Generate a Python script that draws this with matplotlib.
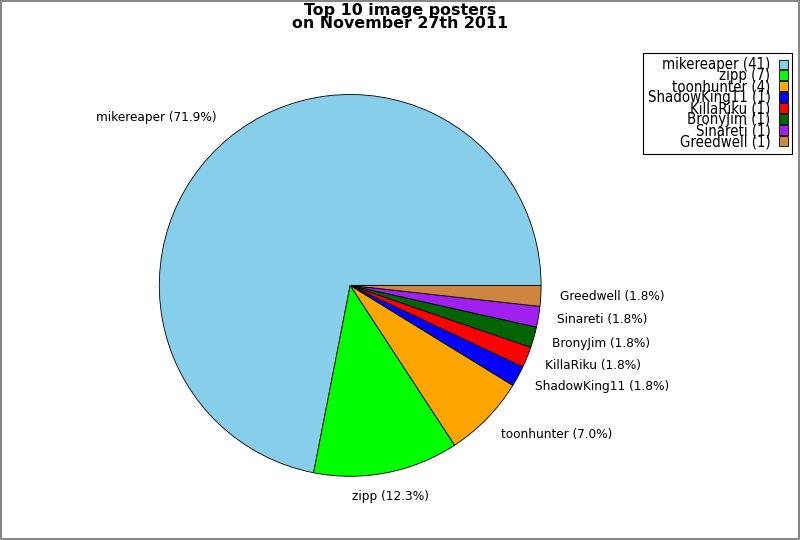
import matplotlib
matplotlib.use("Agg")
import numpy as np
import matplotlib.pyplot as plt
from matplotlib.transforms import offset_copy

names = ["mikereaper", "zipp", "toonhunter", "ShadowKing11", "KillaRiku",
         "BronyJim", "Sinareti", "Greedwell"]
counts = [41, 7, 4, 1, 1, 1, 1, 1]
colors = ["#87CEEB", "#00FF00", "#FFA500", "#0000FF", "#FF0000",
          "#006400", "#A020F0", "#CD853F"]

total = sum(counts)
pie_labels = ["%s (%.1f%%)" % (n, 100.0 * c / total) for n, c in zip(names, counts)]
legend_labels = ["%s (%d)" % (n, c) for n, c in zip(names, counts)]

fig = plt.figure(figsize=(8, 5.4), dpi=100)
fig.patch.set_edgecolor("#888888")
fig.patch.set_linewidth(1.5)

ax = fig.add_axes([0.199, 0.118, 0.4775, 0.707])
wedges, texts = ax.pie(counts, labels=pie_labels, colors=colors, startangle=0,
                       counterclock=True, labeldistance=1.1,
                       wedgeprops=dict(edgecolor="black", linewidth=0.6),
                       textprops=dict(fontsize=8.7))
ax.set_xlim(-1, 1)
ax.set_ylim(-1, 1)
ax.set_aspect("equal")

# nudge labels outward so their boxes sit outside the 1.1r point
for w, t in zip(wedges, texts):
    mid = np.deg2rad((w.theta1 + w.theta2) / 2)
    c, s = np.cos(mid), np.sin(mid)
    if abs(c) < 0.3:
        t.set_ha("center")
    t.set_va("center")
    t.set_transform(offset_copy(ax.transData, fig=fig, x=0, y=s * 4.2 + 0.8, units="points"))

fig.suptitle("Top 10 image posters\non November 27th 2011", fontsize=11.4,
             fontweight="bold", y=0.995, linespacing=0.88)

leg = fig.legend(wedges, legend_labels, loc="upper right",
                 bbox_to_anchor=(792 / 800, 1 - 53 / 540), borderaxespad=0,
                 prop=dict(size=10.7, stretch="condensed"),
                 markerfirst=False, labelspacing=-0.27, handlelength=0.6,
                 handleheight=0.6, handletextpad=0.55, borderpad=0.3,
                 fancybox=False, framealpha=1, edgecolor="black")
leg.get_frame().set_linewidth(0.8)
for t in leg.get_texts():
    t.set_ha("right")
leg._legend_box.align = "right"

fig.savefig("out.png", dpi=100, edgecolor=fig.get_edgecolor())
